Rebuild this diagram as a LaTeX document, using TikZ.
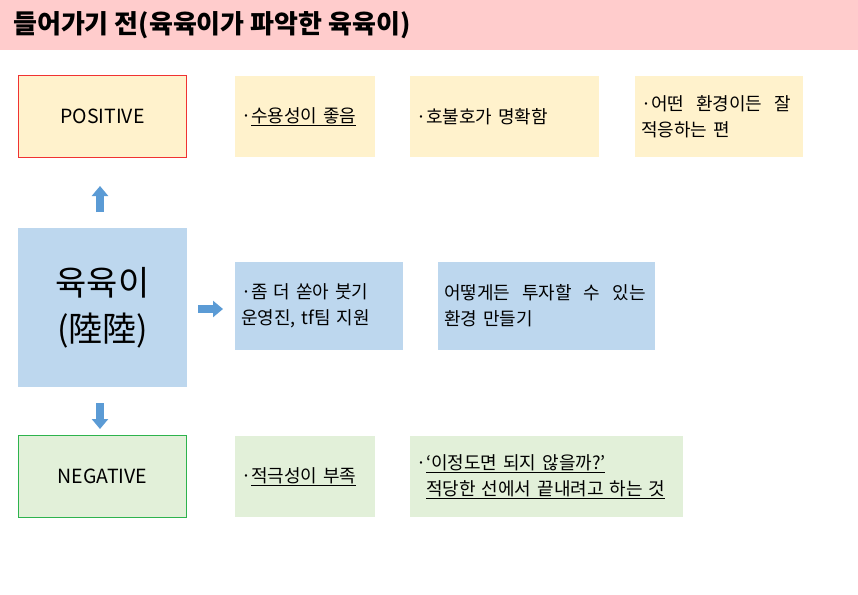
\documentclass[tikz,border=0pt]{standalone}
\usepackage{fontspec}
\setmainfont{Noto Sans CJK KR}
\usetikzlibrary{arrows.meta}
\definecolor{titlepink}{HTML}{FFCCCC}
\definecolor{byellow}{HTML}{FFF2CC}
\definecolor{bblue}{HTML}{BDD7EE}
\definecolor{bgreen}{HTML}{E2F0D9}
\definecolor{bred}{HTML}{F03232}
\definecolor{bgreenline}{HTML}{2DB34D}
\definecolor{arrowblue}{HTML}{5B9BD5}
\tikzset{
  card/.style={rectangle, inner sep=0pt, text=black, font=\fontsize{18}{26}\selectfont, align=left},
  ycard/.style={card, fill=byellow},
  bcard/.style={card, fill=bblue},
  gcard/.style={card, fill=bgreen},
  labelcard/.style={card, line width=1.5pt, minimum width=168pt, minimum height=82pt, align=center, font=\fontsize{19.5}{24}\selectfont},
  blockarrow/.style={draw=arrowblue, line width=8pt, -{Triangle[width=16pt,length=10pt]}},
}
\newcommand{\ul}[1]{\underline{#1}}
\begin{document}
\begin{tikzpicture}[x=1pt,y=-1pt]
\useasboundingbox (0,0) rectangle (858,594);
\fill[white] (0,0) rectangle (858,594);
% title bar
\fill[titlepink] (0,0) rectangle (858,50);
\node[anchor=west, inner sep=0pt, font=\bfseries\fontsize{26}{30}\selectfont] (title) at (13,25) {들어가기 전(육육이가 파악한 육육이)};
% positive row
\node[labelcard, fill=byellow, draw=bred] (pos) at (102.5,116.5) {POSITIVE};
\node[ycard, minimum width=140pt, minimum height=81pt, text width=128pt] (p1) at (305,116.5) {·\ul{수용성이 좋음}};
\node[ycard, minimum width=189pt, minimum height=81pt, text width=177pt] (p2) at (504.5,116.5) {·호불호가 명확함};
\node[ycard, minimum width=168pt, minimum height=81pt, text width=156pt] (p3) at (719,116.5) {·어떤\ \ 환경이든\ \ 잘\\적응하는 편};
% center row
\node[bcard, minimum width=169pt, minimum height=159pt, align=center, font=\fontsize{34}{46}\selectfont] (main) at (102.5,307.5) {육육이\\(陸陸)};
\node[bcard, minimum width=168pt, minimum height=88pt, text width=156pt] (c1) at (319,306) {·좀 더 쏟아 붓기\\운영진, tf팀 지원};
\node[bcard, minimum width=217pt, minimum height=88pt, text width=205pt] (c2) at (546.5,306) {어떻게든\ \ 투자할\ \ 수\ \ 있는\\환경 만들기};
% negative row
\node[labelcard, fill=bgreen, draw=bgreenline] (neg) at (102.5,476.5) {NEGATIVE};
\node[gcard, minimum width=140pt, minimum height=81pt, text width=128pt] (n1) at (305,476.5) {·\ul{적극성이 부족}};
\node[gcard, minimum width=273pt, minimum height=81pt, text width=261pt] (n2) at (546.5,476.5) {·\ul{‘이정도면 되지 않을까?’}\\\hphantom{·}\ul{적당한 선에서 끝내려고 하는 것}};
% block arrows
\coordinate (upS) at (100,212);
\coordinate (upE) at (100,186);
\coordinate (rtS) at (198,309);
\coordinate (rtE) at (223,309);
\coordinate (dnS) at (100,403);
\coordinate (dnE) at (100,429);
\draw[blockarrow] (upS) -- (upE);
\draw[blockarrow] (rtS) -- (rtE);
\draw[blockarrow] (dnS) -- (dnE);
\end{tikzpicture}
\end{document}
